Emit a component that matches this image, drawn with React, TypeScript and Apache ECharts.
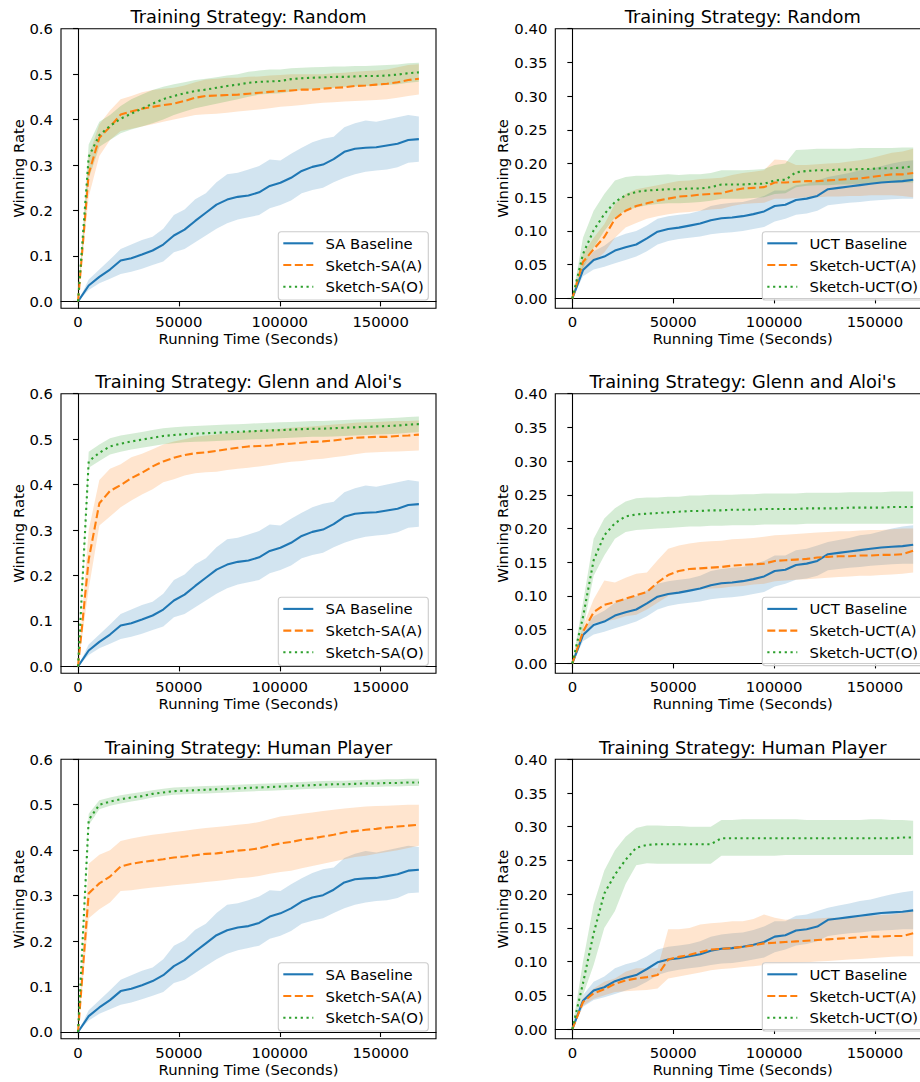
import React, { useEffect, useRef } from 'react';
import * as echarts from 'echarts';

// ---------- data ----------
const X_TIMES = [0, 5280, 10560, 15840, 21120, 26400, 31680, 36960, 42240, 47520, 52800, 58080, 63360, 68640, 73920, 79200, 84480, 89760, 95040, 100320, 105600, 110880, 116160, 121440, 126720, 132000, 137280, 142560, 147840, 153120, 158400, 163680, 168960];
const X_TICKS = [0, 50000, 100000, 150000];
const Y_TICKS_SA = [0, 0.1, 0.2, 0.3, 0.4, 0.5, 0.6];
const Y_TICKS_UCT = [0, 0.05, 0.1, 0.15, 0.2, 0.25, 0.3, 0.35, 0.4];

const SA_BASE_MEAN = [0, 0.035, 0.054, 0.070, 0.090, 0.095, 0.103, 0.112, 0.125, 0.145, 0.158, 0.177, 0.195, 0.213, 0.224, 0.230, 0.233, 0.240, 0.254, 0.261, 0.272, 0.287, 0.296, 0.301, 0.313, 0.329, 0.336, 0.338, 0.339, 0.343, 0.347, 0.355, 0.357];
const SA_BASE_LO = [0, 0.025, 0.040, 0.050, 0.060, 0.065, 0.072, 0.080, 0.088, 0.108, 0.115, 0.130, 0.145, 0.160, 0.172, 0.180, 0.185, 0.190, 0.205, 0.212, 0.222, 0.238, 0.245, 0.250, 0.262, 0.272, 0.280, 0.285, 0.288, 0.290, 0.295, 0.305, 0.307];
const SA_BASE_HI = [0, 0.048, 0.070, 0.092, 0.115, 0.125, 0.135, 0.142, 0.160, 0.190, 0.202, 0.225, 0.238, 0.262, 0.280, 0.283, 0.290, 0.298, 0.312, 0.310, 0.325, 0.338, 0.350, 0.358, 0.362, 0.383, 0.392, 0.398, 0.395, 0.400, 0.405, 0.410, 0.407];

const SA_A_RAND_MEAN = [0, 0.281, 0.360, 0.384, 0.411, 0.418, 0.424, 0.428, 0.432, 0.435, 0.441, 0.448, 0.452, 0.453, 0.454, 0.455, 0.457, 0.459, 0.461, 0.463, 0.464, 0.466, 0.466, 0.468, 0.470, 0.471, 0.474, 0.475, 0.477, 0.479, 0.482, 0.487, 0.490];
const SA_A_RAND_LO = [0, 0.23, 0.32, 0.355, 0.375, 0.38, 0.385, 0.39, 0.395, 0.40, 0.405, 0.41, 0.412, 0.413, 0.415, 0.418, 0.42, 0.422, 0.425, 0.428, 0.43, 0.432, 0.435, 0.437, 0.438, 0.44, 0.441, 0.442, 0.443, 0.445, 0.448, 0.452, 0.455];
const SA_A_RAND_HI = [0, 0.32, 0.39, 0.42, 0.445, 0.452, 0.46, 0.465, 0.468, 0.47, 0.475, 0.482, 0.488, 0.49, 0.492, 0.492, 0.494, 0.495, 0.497, 0.498, 0.50, 0.50, 0.50, 0.50, 0.502, 0.503, 0.505, 0.507, 0.508, 0.51, 0.515, 0.52, 0.522];

const SA_O_RAND_MEAN = [0, 0.318, 0.366, 0.386, 0.402, 0.413, 0.424, 0.435, 0.445, 0.452, 0.458, 0.463, 0.466, 0.470, 0.474, 0.477, 0.481, 0.483, 0.484, 0.485, 0.489, 0.491, 0.492, 0.493, 0.494, 0.494, 0.495, 0.496, 0.496, 0.497, 0.499, 0.502, 0.504];
const SA_O_RAND_LO = [0, 0.27, 0.34, 0.355, 0.37, 0.378, 0.385, 0.392, 0.40, 0.41, 0.418, 0.425, 0.43, 0.435, 0.44, 0.445, 0.45, 0.455, 0.457, 0.458, 0.462, 0.465, 0.467, 0.468, 0.47, 0.472, 0.473, 0.474, 0.475, 0.476, 0.478, 0.481, 0.483];
const SA_O_RAND_HI = [0, 0.345, 0.395, 0.41, 0.43, 0.445, 0.455, 0.465, 0.472, 0.478, 0.482, 0.487, 0.49, 0.493, 0.497, 0.50, 0.505, 0.508, 0.51, 0.51, 0.513, 0.514, 0.515, 0.516, 0.517, 0.517, 0.518, 0.518, 0.519, 0.52, 0.521, 0.524, 0.525];

const SA_A_GLENN_MEAN = [0, 0.235, 0.359, 0.386, 0.399, 0.414, 0.426, 0.440, 0.451, 0.459, 0.465, 0.469, 0.471, 0.474, 0.478, 0.481, 0.484, 0.485, 0.486, 0.489, 0.490, 0.492, 0.494, 0.495, 0.497, 0.500, 0.503, 0.504, 0.505, 0.505, 0.507, 0.508, 0.510];
const SA_A_GLENN_LO = [0, 0.17, 0.31, 0.33, 0.35, 0.365, 0.378, 0.39, 0.405, 0.412, 0.42, 0.425, 0.427, 0.428, 0.432, 0.435, 0.437, 0.44, 0.443, 0.447, 0.45, 0.452, 0.455, 0.457, 0.46, 0.463, 0.467, 0.47, 0.471, 0.472, 0.473, 0.474, 0.475];
const SA_A_GLENN_HI = [0, 0.30, 0.41, 0.435, 0.445, 0.46, 0.468, 0.478, 0.488, 0.495, 0.5, 0.505, 0.508, 0.51, 0.513, 0.515, 0.518, 0.52, 0.522, 0.523, 0.525, 0.527, 0.528, 0.53, 0.532, 0.534, 0.536, 0.537, 0.538, 0.539, 0.54, 0.54, 0.541];

const SA_O_GLENN_MEAN = [0, 0.451, 0.470, 0.484, 0.490, 0.495, 0.499, 0.503, 0.507, 0.509, 0.511, 0.512, 0.513, 0.514, 0.515, 0.516, 0.517, 0.518, 0.519, 0.520, 0.521, 0.522, 0.523, 0.523, 0.524, 0.525, 0.526, 0.527, 0.528, 0.529, 0.530, 0.532, 0.533];
const SA_O_GLENN_LO = [0, 0.437, 0.452, 0.466, 0.472, 0.477, 0.481, 0.485, 0.489, 0.491, 0.493, 0.494, 0.495, 0.496, 0.497, 0.498, 0.499, 0.500, 0.501, 0.502, 0.503, 0.504, 0.505, 0.505, 0.506, 0.507, 0.508, 0.509, 0.510, 0.511, 0.512, 0.514, 0.515];
const SA_O_GLENN_HI = [0, 0.472, 0.488, 0.502, 0.508, 0.512, 0.516, 0.52, 0.524, 0.526, 0.528, 0.529, 0.530, 0.531, 0.532, 0.533, 0.534, 0.535, 0.536, 0.537, 0.538, 0.539, 0.540, 0.540, 0.541, 0.542, 0.543, 0.544, 0.545, 0.546, 0.547, 0.549, 0.550];

const SA_A_HUMAN_MEAN = [0, 0.305, 0.327, 0.342, 0.364, 0.370, 0.374, 0.377, 0.380, 0.384, 0.386, 0.389, 0.392, 0.393, 0.396, 0.399, 0.401, 0.404, 0.410, 0.415, 0.418, 0.423, 0.426, 0.430, 0.434, 0.439, 0.442, 0.445, 0.447, 0.450, 0.452, 0.454, 0.456];
const SA_A_HUMAN_LO = [0, 0.25, 0.27, 0.285, 0.31, 0.312, 0.315, 0.318, 0.32, 0.323, 0.325, 0.327, 0.33, 0.332, 0.335, 0.338, 0.34, 0.343, 0.348, 0.352, 0.355, 0.36, 0.365, 0.37, 0.375, 0.38, 0.385, 0.388, 0.392, 0.396, 0.4, 0.405, 0.41];
const SA_A_HUMAN_HI = [0, 0.37, 0.39, 0.40, 0.42, 0.426, 0.43, 0.434, 0.437, 0.44, 0.443, 0.446, 0.449, 0.451, 0.453, 0.456, 0.458, 0.462, 0.468, 0.474, 0.477, 0.48, 0.483, 0.486, 0.489, 0.492, 0.494, 0.496, 0.497, 0.498, 0.499, 0.5, 0.5];

const SA_O_HUMAN_MEAN = [0, 0.467, 0.500, 0.507, 0.512, 0.516, 0.519, 0.524, 0.527, 0.530, 0.531, 0.532, 0.533, 0.534, 0.535, 0.536, 0.537, 0.538, 0.539, 0.540, 0.541, 0.542, 0.543, 0.544, 0.545, 0.545, 0.546, 0.547, 0.547, 0.548, 0.548, 0.549, 0.549];
const SA_O_HUMAN_LO = [0, 0.455, 0.490, 0.498, 0.503, 0.507, 0.511, 0.516, 0.519, 0.522, 0.523, 0.524, 0.525, 0.526, 0.527, 0.528, 0.529, 0.530, 0.531, 0.532, 0.533, 0.534, 0.535, 0.536, 0.537, 0.537, 0.538, 0.539, 0.539, 0.540, 0.540, 0.541, 0.541];
const SA_O_HUMAN_HI = [0, 0.480, 0.510, 0.516, 0.521, 0.525, 0.528, 0.532, 0.535, 0.538, 0.539, 0.540, 0.541, 0.542, 0.543, 0.544, 0.545, 0.546, 0.547, 0.548, 0.549, 0.550, 0.551, 0.552, 0.553, 0.553, 0.554, 0.555, 0.555, 0.556, 0.556, 0.557, 0.557];

const UCT_BASE_MEAN = [0, 0.042, 0.057, 0.062, 0.071, 0.076, 0.080, 0.089, 0.099, 0.103, 0.105, 0.108, 0.111, 0.116, 0.119, 0.120, 0.122, 0.125, 0.129, 0.137, 0.139, 0.146, 0.148, 0.152, 0.162, 0.164, 0.166, 0.168, 0.170, 0.172, 0.173, 0.174, 0.176];
const UCT_BASE_LO = [0, 0.033, 0.043, 0.047, 0.052, 0.057, 0.062, 0.070, 0.080, 0.085, 0.088, 0.090, 0.092, 0.095, 0.097, 0.098, 0.100, 0.103, 0.106, 0.114, 0.118, 0.124, 0.126, 0.130, 0.138, 0.140, 0.142, 0.143, 0.145, 0.146, 0.147, 0.148, 0.148];
const UCT_BASE_HI = [0, 0.050, 0.070, 0.078, 0.090, 0.096, 0.100, 0.108, 0.118, 0.122, 0.124, 0.126, 0.130, 0.137, 0.140, 0.142, 0.143, 0.147, 0.152, 0.160, 0.160, 0.168, 0.170, 0.175, 0.180, 0.183, 0.186, 0.190, 0.192, 0.196, 0.200, 0.203, 0.205];

const UCT_A_RAND_MEAN = [0, 0.054, 0.073, 0.091, 0.118, 0.130, 0.137, 0.141, 0.145, 0.148, 0.151, 0.152, 0.154, 0.155, 0.156, 0.160, 0.163, 0.164, 0.165, 0.172, 0.172, 0.173, 0.174, 0.174, 0.175, 0.176, 0.177, 0.178, 0.180, 0.182, 0.184, 0.184, 0.186];
const UCT_A_RAND_LO = [0, 0.040, 0.055, 0.068, 0.090, 0.105, 0.112, 0.118, 0.122, 0.125, 0.127, 0.128, 0.130, 0.132, 0.133, 0.137, 0.140, 0.141, 0.142, 0.148, 0.148, 0.149, 0.150, 0.150, 0.151, 0.151, 0.152, 0.152, 0.153, 0.153, 0.153, 0.152, 0.150];
const UCT_A_RAND_HI = [0, 0.065, 0.090, 0.110, 0.140, 0.155, 0.162, 0.165, 0.168, 0.171, 0.174, 0.175, 0.177, 0.178, 0.179, 0.183, 0.186, 0.188, 0.190, 0.206, 0.205, 0.198, 0.198, 0.199, 0.200, 0.201, 0.203, 0.205, 0.208, 0.212, 0.216, 0.218, 0.222];

const UCT_O_RAND_MEAN = [0, 0.066, 0.101, 0.125, 0.143, 0.153, 0.158, 0.160, 0.161, 0.162, 0.162, 0.163, 0.163, 0.165, 0.169, 0.169, 0.169, 0.170, 0.170, 0.175, 0.176, 0.187, 0.189, 0.190, 0.190, 0.191, 0.191, 0.192, 0.192, 0.193, 0.193, 0.194, 0.196];
const UCT_O_RAND_LO = [0, 0.045, 0.075, 0.100, 0.120, 0.130, 0.135, 0.138, 0.140, 0.141, 0.141, 0.142, 0.143, 0.145, 0.148, 0.148, 0.148, 0.149, 0.150, 0.155, 0.156, 0.165, 0.167, 0.168, 0.168, 0.169, 0.169, 0.170, 0.170, 0.171, 0.171, 0.172, 0.172];
const UCT_O_RAND_HI = [0, 0.090, 0.130, 0.155, 0.175, 0.180, 0.182, 0.182, 0.183, 0.184, 0.183, 0.184, 0.184, 0.186, 0.190, 0.190, 0.190, 0.191, 0.192, 0.198, 0.200, 0.220, 0.221, 0.222, 0.222, 0.222, 0.222, 0.223, 0.223, 0.223, 0.223, 0.224, 0.224];

const UCT_A_GLENN_MEAN = [0, 0.047, 0.076, 0.087, 0.091, 0.096, 0.101, 0.106, 0.120, 0.131, 0.137, 0.140, 0.141, 0.142, 0.143, 0.145, 0.146, 0.147, 0.148, 0.152, 0.153, 0.154, 0.155, 0.157, 0.158, 0.159, 0.159, 0.160, 0.160, 0.161, 0.161, 0.162, 0.167];
const UCT_A_GLENN_LO = [0, 0.040, 0.060, 0.062, 0.065, 0.070, 0.072, 0.080, 0.090, 0.100, 0.105, 0.108, 0.110, 0.111, 0.112, 0.114, 0.115, 0.117, 0.118, 0.122, 0.123, 0.124, 0.125, 0.126, 0.127, 0.128, 0.129, 0.130, 0.130, 0.131, 0.132, 0.133, 0.135];
const UCT_A_GLENN_HI = [0, 0.055, 0.095, 0.123, 0.120, 0.127, 0.133, 0.135, 0.153, 0.170, 0.175, 0.178, 0.180, 0.181, 0.182, 0.184, 0.185, 0.186, 0.188, 0.190, 0.191, 0.192, 0.193, 0.194, 0.195, 0.196, 0.196, 0.197, 0.198, 0.198, 0.199, 0.200, 0.200];

const UCT_O_GLENN_MEAN = [0, 0.069, 0.153, 0.190, 0.208, 0.218, 0.221, 0.222, 0.223, 0.224, 0.225, 0.226, 0.226, 0.227, 0.227, 0.228, 0.228, 0.228, 0.229, 0.229, 0.229, 0.229, 0.230, 0.230, 0.230, 0.230, 0.231, 0.231, 0.231, 0.231, 0.232, 0.232, 0.232];
const UCT_O_GLENN_LO = [0, 0.050, 0.130, 0.160, 0.185, 0.195, 0.198, 0.199, 0.200, 0.201, 0.202, 0.203, 0.203, 0.204, 0.204, 0.205, 0.205, 0.205, 0.206, 0.206, 0.206, 0.206, 0.207, 0.207, 0.207, 0.207, 0.207, 0.207, 0.207, 0.207, 0.207, 0.207, 0.207];
const UCT_O_GLENN_HI = [0, 0.090, 0.185, 0.215, 0.230, 0.240, 0.245, 0.246, 0.246, 0.247, 0.247, 0.249, 0.249, 0.250, 0.250, 0.250, 0.251, 0.251, 0.252, 0.252, 0.252, 0.252, 0.253, 0.253, 0.253, 0.253, 0.254, 0.254, 0.254, 0.254, 0.255, 0.255, 0.255];

const UCT_A_HUMAN_MEAN = [0, 0.040, 0.053, 0.059, 0.067, 0.072, 0.075, 0.077, 0.080, 0.103, 0.107, 0.110, 0.114, 0.118, 0.119, 0.120, 0.122, 0.124, 0.127, 0.128, 0.129, 0.130, 0.131, 0.132, 0.133, 0.134, 0.135, 0.136, 0.137, 0.137, 0.138, 0.138, 0.142];
const UCT_A_HUMAN_LO = [0, 0.035, 0.045, 0.050, 0.055, 0.056, 0.057, 0.058, 0.060, 0.075, 0.078, 0.081, 0.084, 0.087, 0.089, 0.090, 0.092, 0.093, 0.095, 0.096, 0.097, 0.098, 0.099, 0.100, 0.101, 0.102, 0.103, 0.104, 0.105, 0.106, 0.107, 0.108, 0.108];
const UCT_A_HUMAN_HI = [0, 0.045, 0.060, 0.070, 0.075, 0.085, 0.090, 0.090, 0.090, 0.148, 0.148, 0.150, 0.155, 0.157, 0.158, 0.160, 0.160, 0.163, 0.170, 0.165, 0.162, 0.163, 0.163, 0.164, 0.165, 0.165, 0.166, 0.167, 0.168, 0.169, 0.170, 0.172, 0.175];

const UCT_O_HUMAN_MEAN = [0, 0.068, 0.142, 0.201, 0.229, 0.251, 0.269, 0.273, 0.274, 0.274, 0.274, 0.274, 0.274, 0.274, 0.283, 0.283, 0.283, 0.283, 0.283, 0.283, 0.283, 0.283, 0.283, 0.283, 0.283, 0.283, 0.283, 0.283, 0.283, 0.283, 0.283, 0.284, 0.284];
const UCT_O_HUMAN_LO = [0, 0.050, 0.095, 0.150, 0.175, 0.215, 0.243, 0.246, 0.245, 0.245, 0.245, 0.245, 0.245, 0.245, 0.257, 0.257, 0.257, 0.257, 0.257, 0.257, 0.258, 0.258, 0.258, 0.258, 0.258, 0.258, 0.258, 0.258, 0.258, 0.258, 0.258, 0.258, 0.258];
const UCT_O_HUMAN_HI = [0, 0.100, 0.185, 0.235, 0.265, 0.285, 0.298, 0.302, 0.302, 0.301, 0.301, 0.300, 0.300, 0.300, 0.310, 0.310, 0.311, 0.311, 0.311, 0.311, 0.311, 0.311, 0.310, 0.310, 0.310, 0.310, 0.310, 0.310, 0.311, 0.311, 0.310, 0.310, 0.309];

// ---------- styles ----------
const BLUE = '#1f77b4';
const ORANGE = '#ff7f0e';
const GREEN = '#2ca02c';
const DASHED = [8, 3.5];
const DOTTED = [2.2, 3.6];
const FONT = 'DejaVu Sans';
const INK = '#000000';
const TICK_FS = 14.8;
const TITLE_FS = 17.8;

type Curve = { name: string; mean: number[]; lo: number[]; hi: number[]; color: string; dash: number[] | 'solid' };
type Panel = { title: string; col: number; row: number; uct: boolean; curves: Curve[] };

const PANELS: Panel[] = [
  { title: 'Training Strategy: Random', col: 0, row: 0, uct: false, curves: [
    { name: 'SA Baseline', mean: SA_BASE_MEAN, lo: SA_BASE_LO, hi: SA_BASE_HI, color: BLUE, dash: 'solid' },
    { name: 'Sketch-SA(A)', mean: SA_A_RAND_MEAN, lo: SA_A_RAND_LO, hi: SA_A_RAND_HI, color: ORANGE, dash: DASHED },
    { name: 'Sketch-SA(O)', mean: SA_O_RAND_MEAN, lo: SA_O_RAND_LO, hi: SA_O_RAND_HI, color: GREEN, dash: DOTTED },
  ] },
  { title: 'Training Strategy: Random', col: 1, row: 0, uct: true, curves: [
    { name: 'UCT Baseline', mean: UCT_BASE_MEAN, lo: UCT_BASE_LO, hi: UCT_BASE_HI, color: BLUE, dash: 'solid' },
    { name: 'Sketch-UCT(A)', mean: UCT_A_RAND_MEAN, lo: UCT_A_RAND_LO, hi: UCT_A_RAND_HI, color: ORANGE, dash: DASHED },
    { name: 'Sketch-UCT(O)', mean: UCT_O_RAND_MEAN, lo: UCT_O_RAND_LO, hi: UCT_O_RAND_HI, color: GREEN, dash: DOTTED },
  ] },
  { title: "Training Strategy: Glenn and Aloi's", col: 0, row: 1, uct: false, curves: [
    { name: 'SA Baseline', mean: SA_BASE_MEAN, lo: SA_BASE_LO, hi: SA_BASE_HI, color: BLUE, dash: 'solid' },
    { name: 'Sketch-SA(A)', mean: SA_A_GLENN_MEAN, lo: SA_A_GLENN_LO, hi: SA_A_GLENN_HI, color: ORANGE, dash: DASHED },
    { name: 'Sketch-SA(O)', mean: SA_O_GLENN_MEAN, lo: SA_O_GLENN_LO, hi: SA_O_GLENN_HI, color: GREEN, dash: DOTTED },
  ] },
  { title: "Training Strategy: Glenn and Aloi's", col: 1, row: 1, uct: true, curves: [
    { name: 'UCT Baseline', mean: UCT_BASE_MEAN, lo: UCT_BASE_LO, hi: UCT_BASE_HI, color: BLUE, dash: 'solid' },
    { name: 'Sketch-UCT(A)', mean: UCT_A_GLENN_MEAN, lo: UCT_A_GLENN_LO, hi: UCT_A_GLENN_HI, color: ORANGE, dash: DASHED },
    { name: 'Sketch-UCT(O)', mean: UCT_O_GLENN_MEAN, lo: UCT_O_GLENN_LO, hi: UCT_O_GLENN_HI, color: GREEN, dash: DOTTED },
  ] },
  { title: 'Training Strategy: Human Player', col: 0, row: 2, uct: false, curves: [
    { name: 'SA Baseline', mean: SA_BASE_MEAN, lo: SA_BASE_LO, hi: SA_BASE_HI, color: BLUE, dash: 'solid' },
    { name: 'Sketch-SA(A)', mean: SA_A_HUMAN_MEAN, lo: SA_A_HUMAN_LO, hi: SA_A_HUMAN_HI, color: ORANGE, dash: DASHED },
    { name: 'Sketch-SA(O)', mean: SA_O_HUMAN_MEAN, lo: SA_O_HUMAN_LO, hi: SA_O_HUMAN_HI, color: GREEN, dash: DOTTED },
  ] },
  { title: 'Training Strategy: Human Player', col: 1, row: 2, uct: true, curves: [
    { name: 'UCT Baseline', mean: UCT_BASE_MEAN, lo: UCT_BASE_LO, hi: UCT_BASE_HI, color: BLUE, dash: 'solid' },
    { name: 'Sketch-UCT(A)', mean: UCT_A_HUMAN_MEAN, lo: UCT_A_HUMAN_LO, hi: UCT_A_HUMAN_HI, color: ORANGE, dash: DASHED },
    { name: 'Sketch-UCT(O)', mean: UCT_O_HUMAN_MEAN, lo: UCT_O_HUMAN_LO, hi: UCT_O_HUMAN_HI, color: GREEN, dash: DOTTED },
  ] },
];

// ---------- layout ----------
const COL_LEFT = [61, 555.3];
const GRID_W = 375;
const ROW_TOP = [28.7, 393.7, 759.3];
const GRID_H = 279.5;
const TITLE_Y = [16, 381.7, 747.3];
const LEGEND_X = [278.3, 762.3];
const LEGEND_Y = [231.7, 597.3, 962.7];
const LEGEND_W = [150, 162];
const LEGEND_H = 68.3;

function buildOption() {
  const grid: any[] = [];
  const xAxis: any[] = [];
  const yAxis: any[] = [];
  const series: any[] = [];
  const graphic: any[] = [];

  PANELS.forEach((p, idx) => {
    const left = COL_LEFT[p.col];
    const top = ROW_TOP[p.row];
    grid.push({
      left, top, width: GRID_W, height: GRID_H,
      show: false, containLabel: false, outerBoundsMode: 'none',
    });
    xAxis.push({
      type: 'value', gridIndex: idx, min: -8450, max: 177450,
      name: 'Running Time (Seconds)', nameLocation: 'middle', nameGap: 23,
      nameTextStyle: { fontSize: TICK_FS, color: INK, fontFamily: FONT, fontWeight: 'normal' },
      axisLine: { show: true, lineStyle: { color: INK, width: 1.1 } },
      axisTick: { show: true, inside: false, length: 5, lineStyle: { color: INK, width: 1.1 }, customValues: X_TICKS },
      axisLabel: { show: true, margin: 6, fontSize: TICK_FS, color: INK, fontFamily: FONT, fontWeight: 'normal', customValues: X_TICKS, formatter: (v: number) => String(v) },
      splitLine: { show: false },
    });
    const yTicks = p.uct ? Y_TICKS_UCT : Y_TICKS_SA;
    yAxis.push({
      type: 'value', gridIndex: idx,
      min: p.uct ? -0.0145 : -0.015, max: p.uct ? 0.4 : 0.6,
      name: 'Winning Rate', nameLocation: 'middle', nameGap: p.uct ? 44 : 34, nameRotate: 90,
      nameTextStyle: { fontSize: TICK_FS, color: INK, fontFamily: FONT, fontWeight: 'normal' },
      axisLine: { show: true, lineStyle: { color: INK, width: 1.1 } },
      axisTick: { show: true, inside: false, length: 5, lineStyle: { color: INK, width: 1.1 }, customValues: yTicks },
      axisLabel: { show: true, margin: 8, fontSize: TICK_FS, color: INK, fontFamily: FONT, fontWeight: 'normal', customValues: yTicks,
        formatter: (v: number) => (p.uct ? v.toFixed(2) : v.toFixed(1)) },
      splitLine: { show: false },
    });

    // confidence bands
    p.curves.forEach((c) => {
      series.push({
        type: 'custom', xAxisIndex: idx, yAxisIndex: idx, silent: true, z: 1, clip: false,
        name: c.name + ' band',
        data: X_TIMES.map((x, i) => [x, c.lo[i], c.hi[i]]),
        encode: { x: 0, y: [1, 2] },
        renderItem: (params: any, api: any) => {
          if (params.dataIndex !== 0) return null;
          const upper = X_TIMES.map((x, i) => api.coord([x, c.hi[i]]));
          const lower = X_TIMES.map((x, i) => api.coord([x, c.lo[i]])).reverse();
          return { type: 'polygon', shape: { points: upper.concat(lower) }, style: { fill: c.color, opacity: 0.2 } };
        },
      });
    });
    // mean lines
    p.curves.forEach((c) => {
      series.push({
        type: 'line', name: c.name, xAxisIndex: idx, yAxisIndex: idx, z: 3, silent: true,
        showSymbol: false, symbol: 'none',
        data: X_TIMES.map((x, i) => [x, c.mean[i]]),
        lineStyle: { color: c.color, width: 2.1, type: c.dash, cap: 'butt' },
      });
    });

    // axes frame (top and right spines)
    graphic.push({
      type: 'rect', z: 15, silent: true,
      shape: { x: left, y: top, width: GRID_W, height: GRID_H },
      style: { fill: 'none', stroke: INK, lineWidth: 1.1 },
    });

    // title
    graphic.push({
      type: 'text', x: left + GRID_W / 2, y: TITLE_Y[p.row], z: 10,
      style: { text: p.title, fontSize: TITLE_FS, fontFamily: FONT, fontWeight: 'normal', fill: INK, align: 'center', verticalAlign: 'middle' },
    });

    // legend
    const lx = LEGEND_X[p.col];
    const ly = LEGEND_Y[p.row];
    graphic.push({
      type: 'rect', z: 20,
      shape: { x: lx, y: ly, width: LEGEND_W[p.col], height: LEGEND_H, r: 3 },
      style: { fill: 'rgba(255,255,255,0.8)', stroke: '#cccccc', lineWidth: 1.1 },
    });
    p.curves.forEach((c, k) => {
      const cy = ly + 11.6 + k * 21.7;
      graphic.push({
        type: 'line', z: 21,
        shape: { x1: lx + 5, y1: cy, x2: lx + 35, y2: cy },
        style: { stroke: c.color, lineWidth: 2.1, lineDash: c.dash === 'solid' ? null : c.dash, lineCap: 'butt' },
      });
      graphic.push({
        type: 'text', z: 21, x: lx + 47.2, y: cy,
        style: { text: c.name, fontSize: TICK_FS, fontFamily: FONT, fontWeight: 'normal', fill: INK, align: 'left', verticalAlign: 'middle' },
      });
    });
  });

  return {
    animation: false,
    backgroundColor: '#ffffff',
    textStyle: { fontFamily: FONT, fontWeight: 'normal' },
    grid, xAxis, yAxis, series, graphic,
  };
}

export default function App() {
  const ref = useRef<HTMLDivElement>(null);
  useEffect(() => {
    if (!ref.current) return;
    const chart = echarts.init(ref.current, undefined, { renderer: 'svg' });
    chart.setOption(buildOption() as any);
    return () => chart.dispose();
  }, []);
  return <div ref={ref} style={{ position: 'absolute', left: 0, top: 0, width: 920, height: 1082 }} />;
}
